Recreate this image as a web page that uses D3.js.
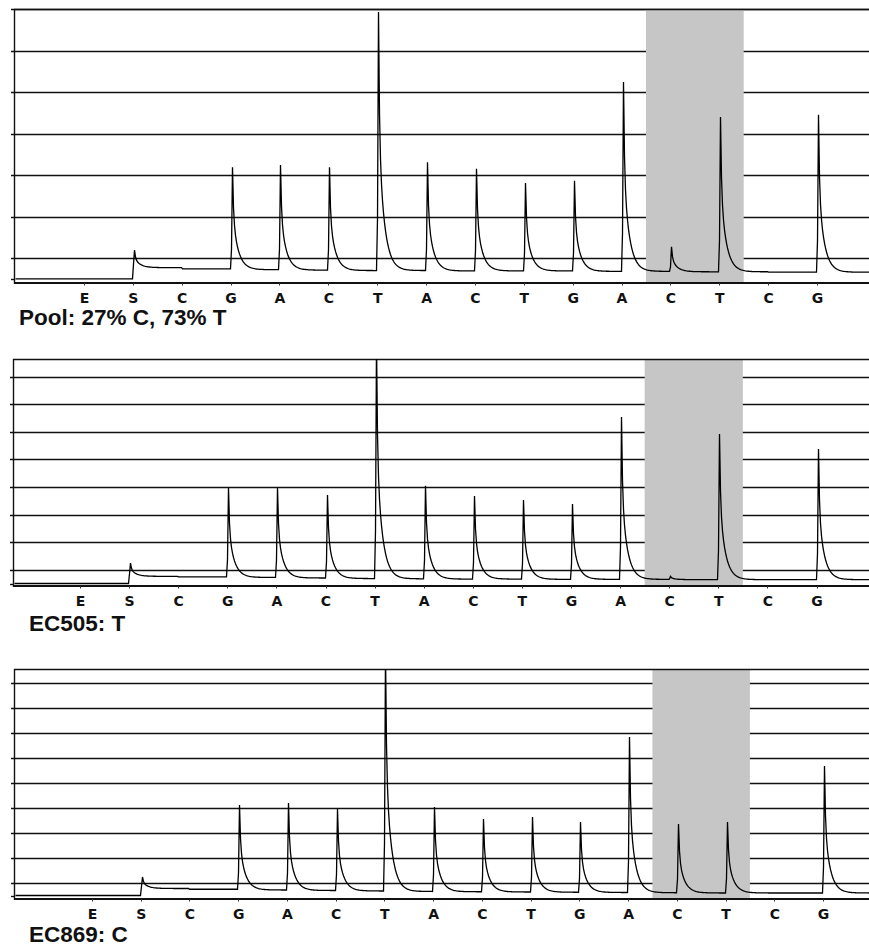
<!DOCTYPE html>
<html>
<head>
<meta charset="utf-8">
<script src="https://cdn.jsdelivr.net/npm/d3@7"></script>
<style>
  html, body { margin: 0; padding: 0; background: #fff; }
  svg { display: block; }
  .disp { font-family: "DejaVu Sans", Verdana, sans-serif; font-weight: bold; font-size: 14px; fill: #111; }
  .title { font-family: "Liberation Sans", Arial, sans-serif; font-weight: bold; font-size: 22.5px; fill: #111; }
</style>
</head>
<body>
<svg id="chart" width="869" height="946"></svg>
<script>
// dispensation order (same for all three runs)
const dispensations = ["E", "S", "C", "G", "A", "C", "T", "A", "C", "T", "G", "A", "C", "T", "C", "G"];

// peak tops (signal units, null = no peak) and baseline level after each dispensation
const poolTops      = [null, 6.9, null, 26.9, 27.4, 26.9, 64.3, 28.1, 26.5, 23.1, 23.6, 47.4, 7.7, 39.0, null, 39.5];
const poolBase      = [0, 2.7, 2.4, 2.2, 2.1, 2.0, 2.0, 1.9, 1.9, 1.9, 1.8, 1.8, 1.7, 1.7, 1.6, 1.6];

const ec505Tops     = [null, 7.4, null, 34.6, 34.6, 32.1, 88.0, 35.4, 31.7, 30.3, 28.8, 60.4, 2.6, 54.2, null, 48.8];
const ec505Base     = [0, 2.6, 2.4, 2.2, 2.0, 1.8, 1.7, 1.6, 1.6, 1.5, 1.5, 1.5, 1.4, 1.4, 1.4, 1.4];

const ec869Tops     = [null, 7.4, null, 36.2, 37.0, 34.6, 98.0, 35.4, 30.6, 31.4, 29.4, 63.4, 28.6, 29.4, null, 51.8];
const ec869Base     = [0, 2.8, 2.5, 2.2, 2.0, 1.8, 1.6, 1.5, 1.4, 1.3, 1.2, 1.1, 1.0, 1.0, 1.0, 1.0];

const poolGrid  = [5, 15, 25, 35, 45, 55, 65];
const ec505Grid = [5, 15, 25, 35, 45, 55, 65, 75];
const ec869Grid = [5, 15, 25, 35, 45, 55, 65, 75, 85];

// the two positions of interest (C, T) are shaded
const snpBand = [11.5, 13.5];

const titles = ["Pool: 27% C, 73% T", "EC505: T", "EC869: C"];

const W = 869;
const panels = [
  { tops: poolTops,  base: poolBase,  grid: poolGrid,  title: titles[0],
    left: 14, top: 9,   bottom: 283, yDom: [-1, 65],     xr: [84, 817],   tx: 19, ty: 325 },
  { tops: ec505Tops, base: ec505Base, grid: ec505Grid, title: titles[1],
    left: 13, top: 359, bottom: 586, yDom: [-0.9, 81.4], xr: [80, 816.5], tx: 29, ty: 631 },
  { tops: ec869Tops, base: ec869Base, grid: ec869Grid, title: titles[2],
    left: 14, top: 669, bottom: 899, yDom: [-1.4, 90.6], xr: [92, 823],   tx: 29, ty: 942 }
];

// peak shape: sharp rise, fast spike decay + slower tail (t in px from the dispensation)
function pulse(t) {
  if (t < 0) return 0;
  if (t < 1) return 0.2;
  return 0.45 * Math.exp(-(t - 1) / 0.9) + 0.55 * Math.exp(-(t - 1) / 5.5);
}

const svg = d3.select("#chart");
const crisp = v => Math.round(v) + 0.5;
const INK = "#111";

panels.forEach((p, pi) => {
  const x = d3.scaleLinear().domain([0, dispensations.length - 1]).range(p.xr);
  const y = d3.scaleLinear().domain(p.yDom).range([p.bottom, p.top]);
  const g = svg.append("g");

  // gridlines (run a few px left of the frame as ticks)
  g.selectAll("line.grid").data(p.grid).join("line")
    .attr("class", "grid")
    .attr("x1", p.left - 3).attr("x2", W)
    .attr("y1", d => crisp(y(d))).attr("y2", d => crisp(y(d)))
    .attr("stroke", INK).attr("stroke-width", 1.4);

  // zero tick on the left
  g.append("line")
    .attr("x1", p.left - 3).attr("x2", p.left)
    .attr("y1", crisp(y(0))).attr("y2", crisp(y(0)))
    .attr("stroke", INK).attr("stroke-width", 1.4);

  // shaded SNP band
  g.append("rect")
    .attr("x", x(snpBand[0])).attr("width", x(snpBand[1]) - x(snpBand[0]))
    .attr("y", p.top).attr("height", p.bottom - p.top)
    .attr("fill", "#c6c6c6");

  // frame: top, left, bottom axis
  g.append("line").attr("x1", p.left).attr("x2", W)
    .attr("y1", crisp(p.top)).attr("y2", crisp(p.top))
    .attr("stroke", INK).attr("stroke-width", 1.4);
  g.append("line").attr("x1", crisp(p.left)).attr("x2", crisp(p.left))
    .attr("y1", p.top).attr("y2", p.bottom + 1)
    .attr("stroke", INK).attr("stroke-width", 1.4);
  g.append("line").attr("x1", p.left).attr("x2", W)
    .attr("y1", p.bottom).attr("y2", p.bottom)
    .attr("stroke", INK).attr("stroke-width", 1.8);

  // bottom ticks + dispensation labels
  g.selectAll("line.tick").data(dispensations).join("line")
    .attr("class", "tick")
    .attr("x1", (d, i) => crisp(x(i))).attr("x2", (d, i) => crisp(x(i)))
    .attr("y1", p.bottom).attr("y2", p.bottom + 2.5)
    .attr("stroke", "#333");
  g.selectAll("text.disp").data(dispensations).join("text")
    .attr("class", "disp")
    .attr("x", (d, i) => x(i) + 0.5)
    .attr("y", p.bottom + 20)
    .attr("text-anchor", "middle")
    .text(d => d);

  // trace
  const px0 = dispensations.map((d, i) => Math.round(x(i)));
  const pts = [];
  for (let px = p.left + 1; px <= W; px++) {
    let k = -1;
    px0.forEach((v, i) => { if (v <= px) k = i; });
    let v = k < 0 ? 0 : p.base[k];
    px0.forEach((v0, i) => {
      if (p.tops[i] == null) return;
      v += (p.tops[i] - p.base[i]) * pulse(px - v0);
    });
    pts.push([px + 0.5, y(v)]);
  }

  const clipId = "clip" + pi;
  svg.append("clipPath").attr("id", clipId).append("rect")
    .attr("x", p.left).attr("y", p.top).attr("width", W - p.left).attr("height", p.bottom - p.top);

  g.append("path")
    .datum(pts)
    .attr("clip-path", `url(#${clipId})`)
    .attr("d", d3.line())
    .attr("fill", "none")
    .attr("stroke", "#000")
    .attr("stroke-width", 1.3);

  g.append("text")
    .attr("class", "title")
    .attr("x", p.tx).attr("y", p.ty)
    .text(p.title);
});
</script>
</body>
</html>
